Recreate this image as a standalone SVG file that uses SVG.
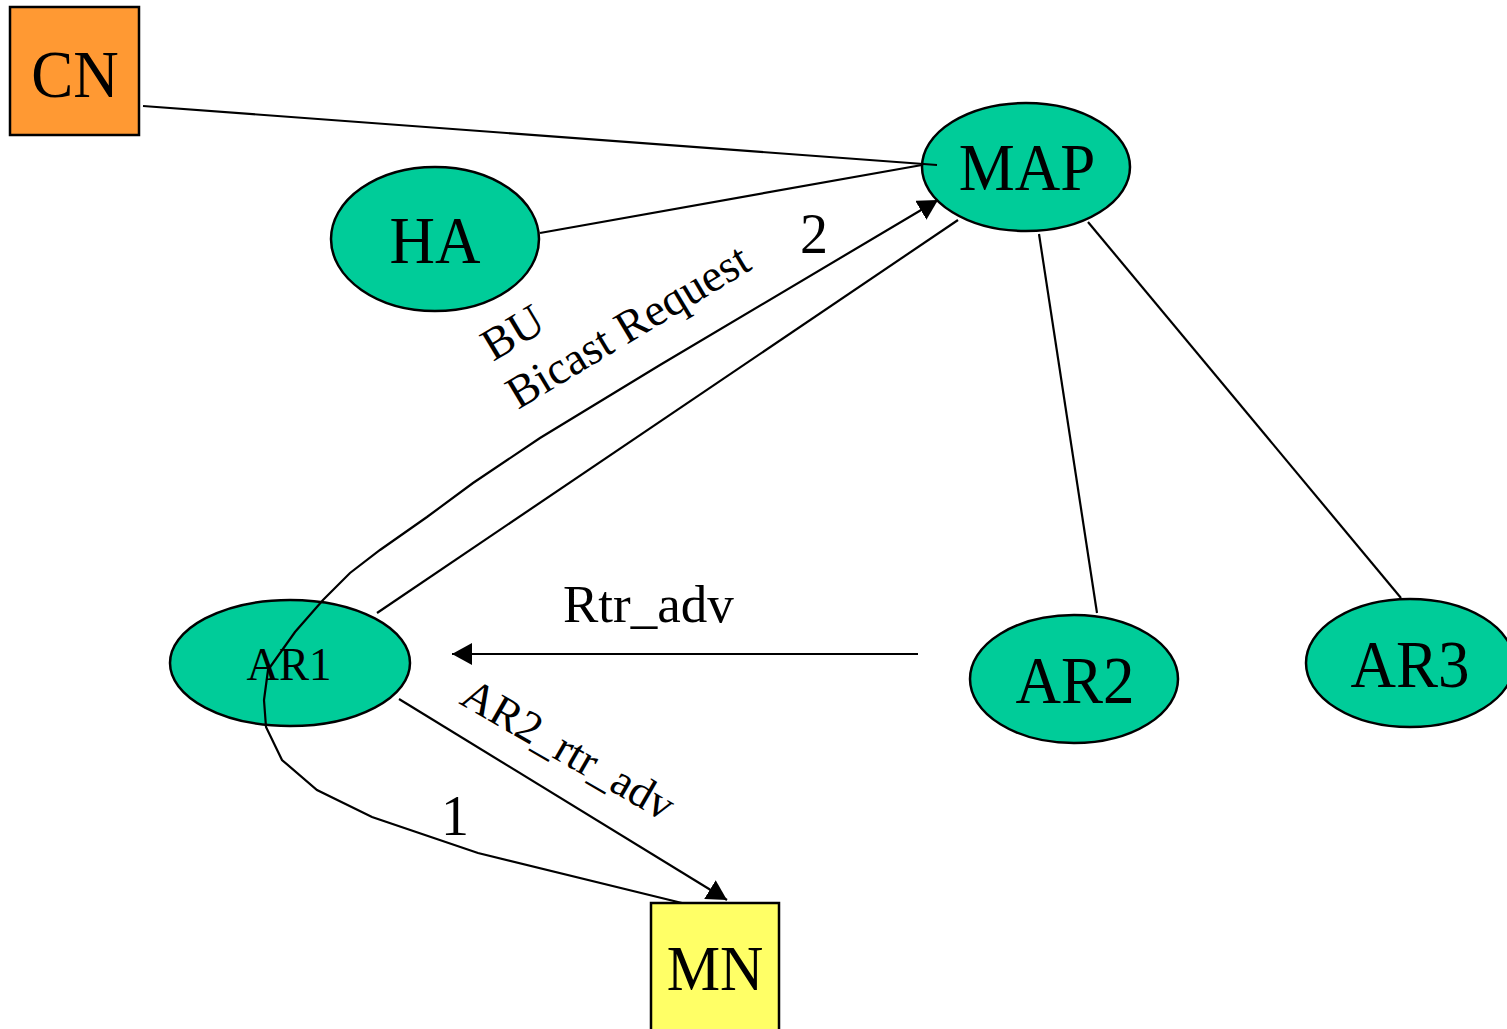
<svg xmlns="http://www.w3.org/2000/svg" width="1507" height="1029" viewBox="0 0 1507 1029">
<style>
.node{fill:#00CC99;stroke:#000;stroke-width:2.5}
.box{stroke:#000;stroke-width:2.5}
.t{font-family:"Liberation Serif","Times New Roman",serif;fill:#000;text-anchor:middle}
.lbl{font-family:"Liberation Serif","Times New Roman",serif;fill:#000}
.ln{fill:none;stroke:#000;stroke-width:2.2}
</style>
<defs>
<marker id="ah" markerUnits="userSpaceOnUse" markerWidth="22" markerHeight="22" refX="20" refY="11" orient="auto">
<path d="M0,0 L20,11 L0,22 z" fill="#000"/>
</marker>
</defs>
<rect width="1507" height="1029" fill="#fff"/>
<g id="CN">
<rect class="box" x="10" y="7" width="129" height="128" fill="#FF9933"/>
<text class="t" font-size="63" transform="translate(75,97) scale(1,1.07)">CN</text>
</g>
<g id="HA">
<ellipse class="node" cx="435" cy="239" rx="104" ry="72"/>
<text class="t" font-size="63" transform="translate(435,263) scale(1,1.07)">HA</text>
</g>
<g id="MAP">
<ellipse class="node" cx="1026" cy="167" rx="104" ry="64"/>
<text class="t" font-size="63" transform="translate(1027,190) scale(1,1.07)">MAP</text>
</g>
<g id="AR1">
<ellipse class="node" cx="290" cy="663" rx="120" ry="63"/>
<text class="t" font-size="45" transform="translate(289,680) scale(1,1.05)">AR1</text>
</g>
<g id="AR2">
<ellipse class="node" cx="1074" cy="679" rx="104" ry="64"/>
<text class="t" font-size="63" transform="translate(1075,703) scale(1,1.07)">AR2</text>
</g>
<g id="AR3">
<ellipse class="node" cx="1410" cy="663" rx="104" ry="64"/>
<text class="t" font-size="63" transform="translate(1410,687) scale(1,1.07)">AR3</text>
</g>
<g id="MN">
<rect class="box" x="651" y="903" width="128" height="140" fill="#FFFF66"/>
<text class="t" font-size="60" transform="translate(715,990) scale(1,1.07)">MN</text>
</g>
<g id="connectors">
<line class="ln" x1="143" y1="106" x2="937" y2="165"/>
<line class="ln" x1="540" y1="233" x2="922" y2="165"/>
<line class="ln" x1="958" y1="220" x2="377" y2="613"/>
<line class="ln" x1="1039" y1="234" x2="1097" y2="613"/>
<line class="ln" x1="1088" y1="222" x2="1401" y2="598"/>
<line class="ln" x1="918" y1="654" x2="452" y2="654" marker-end="url(#ah)"/>
<line class="ln" x1="399" y1="699" x2="727" y2="900" marker-end="url(#ah)"/>
<polyline class="ln" points="682,903 478,853 372,817 317,790 282,760 266,727 264,700 268,670 295,632 323,600 350,573 380,550 427,517 473,483 540,438 660,365 938,200" marker-end="url(#ah)"/>
<text class="t" font-size="56" x="814" y="253">2</text>
<text class="t" font-size="56" x="455" y="835">1</text>
<text class="lbl" font-size="46" transform="translate(493,362) rotate(-31)">BU</text>
<text class="lbl" font-size="46" transform="translate(518,410) rotate(-31)">Bicast Request</text>
<text class="lbl" font-size="53" x="563" y="622">Rtr_adv</text>
<text class="lbl" font-size="45" transform="translate(458,703) rotate(30)">AR2_rtr_adv</text>
</g>
</svg>
